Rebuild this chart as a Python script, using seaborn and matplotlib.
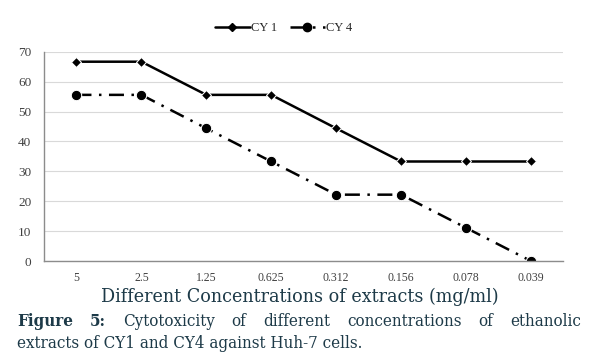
import matplotlib
matplotlib.use("Agg")
import matplotlib.pyplot as plt
import seaborn as sns
import pandas as pd
from matplotlib.lines import Line2D

concentrations = ["5", "2.5", "1.25", "0.625", "0.312", "0.156", "0.078", "0.039"]
cy1 = [66.7, 66.7, 55.6, 55.6, 44.4, 33.3, 33.3, 33.3]
cy4 = [55.6, 55.6, 44.4, 33.3, 22.2, 22.2, 11.1, 0.0]
y_ticks = [0, 10, 20, 30, 40, 50, 60, 70]

df = pd.DataFrame({
    "conc": concentrations * 2,
    "value": cy1 + cy4,
    "series": ["CY 1"] * len(cy1) + ["CY 4"] * len(cy4),
})

sns.set_style("white")
plt.rcParams['font.family'] = ['Liberation Serif', 'DejaVu Serif']

fig = plt.figure(figsize=(5.97, 3.6), dpi=100)
ax = fig.add_axes([0.0737, 0.275, 0.870, 0.581])

sns.lineplot(data=df, x="conc", y="value", hue="series", style="series",
             palette={"CY 1": "black", "CY 4": "black"},
             markers={"CY 1": "D", "CY 4": "o"},
             dashes={"CY 1": "", "CY 4": (6, 3, 1, 3)},
             sort=False, linewidth=1.8, markersize=5, ax=ax, legend=False)
for line in ax.lines:
    if line.get_marker() == "o":
        line.set_markersize(7.5)
    else:
        line.set_markersize(5)

ax.set_xlim(-0.5, len(concentrations) - 0.5)
ax.set_ylim(0, 70)
ax.set_yticks(y_ticks)
ax.yaxis.grid(True, color="#d9d9d9", linewidth=0.8)
ax.set_axisbelow(True)
for s in ["top", "right"]:
    ax.spines[s].set_visible(False)
for s in ["left", "bottom"]:
    ax.spines[s].set_color("#8c8c8c")
    ax.spines[s].set_linewidth(1.0)
ax.tick_params(axis="both", length=0, colors="#404040")
ax.tick_params(axis="x", pad=8, labelsize=8.5)
ax.tick_params(axis="y", pad=9, labelsize=9.5)
ax.set_xlabel("")
ax.set_ylabel("")

handles = [
    Line2D([], [], color="black", lw=1.8, marker="D", markersize=4.5),
    Line2D([], [], color="black", lw=1.8, marker="o", markersize=6, dashes=(6, 3, 1, 3)),
]
fig.legend(handles, ["CY 1", "CY 4"], loc="center", bbox_to_anchor=(0.475, 0.922),
           ncol=2, frameon=False, fontsize=9, handlelength=2.8, handletextpad=0.1,
           columnspacing=1.0)

text_color = "#1d3a48"
cap_font = ['DejaVu Serif']
fig.text(0.503, 0.175, "Different Concentrations of extracts (mg/ml)", ha="center", va="center",
         fontsize=14, color=text_color, family=cap_font, stretch="condensed")

# justified first caption line
renderer = fig.canvas.get_renderer()
words = [("Figure", "bold"), ("5:", "bold"), ("Cytotoxicity", "normal"), ("of", "normal"),
         ("different", "normal"), ("concentrations", "normal"), ("of", "normal"),
         ("ethanolic", "normal")]
x0, x1 = 17 / 597, 581 / 597
y1 = 1 - 322 / 360
objs = [fig.text(0, y1, w, fontsize=12.2, fontweight=wt, color=text_color, family=cap_font,
                 stretch="condensed", va="center", ha="left") for w, wt in words]
widths = [o.get_window_extent(renderer).width / fig.bbox.width for o in objs]
gap = (x1 - x0 - sum(widths)) / (len(words) - 1)
x = x0
for o, w in zip(objs, widths):
    o.set_x(x)
    x += w + gap

fig.text(x0, 1 - 343 / 360, "extracts of CY1 and CY4 against Huh-7 cells.", fontsize=12.2,
         color=text_color, family=cap_font, stretch="condensed", va="center", ha="left")

fig.savefig("out.png", dpi=100)
